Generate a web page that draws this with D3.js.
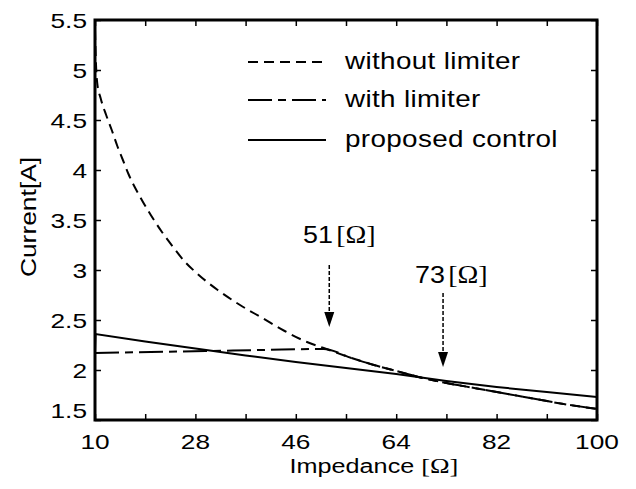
<!DOCTYPE html>
<html>
<head>
<meta charset="utf-8">
<script src="https://cdn.jsdelivr.net/npm/d3@7"></script>
<style>
  body { margin: 0; background: #fff; }
  text { font-family: "Liberation Sans", Arial, Helvetica, sans-serif; fill: #000; }
  .serif { font-family: "Liberation Serif", "Times New Roman", serif; }
</style>
</head>
<body>
<div class="canvas"></div>
<script>
// series data
const withoutZ = [10, 10.15, 10.4, 11, 12, 13, 14, 15, 16, 18, 20, 22, 24, 26, 28, 32, 36, 40, 44, 48, 51, 56, 60, 64, 68, 73, 78, 83, 88, 94, 100];
const withoutI = [5.4, 5.1, 4.87, 4.72, 4.55, 4.4, 4.24, 4.1, 3.96, 3.74, 3.55, 3.38, 3.23, 3.09, 2.98, 2.8, 2.65, 2.52, 2.39, 2.28, 2.22, 2.12, 2.05, 1.99, 1.93, 1.87, 1.82, 1.77, 1.72, 1.66, 1.61];

const withZ = [10, 20, 30, 40, 51, 56, 60, 64, 68, 73, 78, 83, 88, 94, 100];
const withI = [2.17, 2.18, 2.19, 2.2, 2.21, 2.12, 2.05, 1.99, 1.93, 1.87, 1.82, 1.77, 1.72, 1.66, 1.61];

const proposedZ = [10, 10.1, 19, 28, 37, 46, 55, 64, 73, 82, 91, 100];
const proposedI = [2.18, 2.36, 2.285, 2.215, 2.145, 2.08, 2.02, 1.96, 1.89, 1.83, 1.78, 1.73];

const xTicks = [10, 19, 28, 37, 46, 55, 64, 73, 82, 91, 100];
const xTickLabels = [10, 28, 46, 64, 82, 100];
const yTicks = [1.5, 2, 2.5, 3, 3.5, 4, 4.5, 5, 5.5];

const legendNames = ['without limiter', 'with limiter', 'proposed control'];
const markZ = [52, 72.4];
const markLabels = ['51', '73'];
const markArrowTop = [3.05, 2.77];
const markArrowTip = [2.43, 2.03];

const dims = { width: 636, height: 489 };
const plot = { left: 95, right: 597, top: 20, bottom: 420 };

const svg = d3.select('.canvas')
    .append('svg')
    .attr('width', dims.width)
    .attr('height', dims.height);

const x = d3.scaleLinear().domain([10, 100]).range([plot.left, plot.right]);
const y = d3.scaleLinear().domain([1.5, 5.5]).range([plot.bottom, plot.top]);

// stretched text, the scan is a bit wide
const label = (g, tx, ty, str, size, anchor, sx) => {
    return g.append('g')
        .attr('transform', `translate(${tx}, ${ty}) scale(${sx}, 1)`)
        .append('text')
        .attr('text-anchor', anchor)
        .attr('font-size', size)
        .text(str);
};

const dashes = ['10,6', '24,6,8,6', null];
const curves = [d3.curveMonotoneX, d3.curveMonotoneX, d3.curveLinear];

const series = [
    d3.zip(withoutZ, withoutI),
    d3.zip(withZ, withI),
    d3.zip(proposedZ, proposedI)
];

svg.append('clipPath').attr('id', 'clip')
    .append('rect')
    .attr('x', plot.left).attr('y', plot.top)
    .attr('width', plot.right - plot.left).attr('height', plot.bottom - plot.top);

const lines = svg.append('g').attr('clip-path', 'url(#clip)');

lines.selectAll('path')
    .data(series)
    .enter()
    .append('path')
    .attr('d', (d, i) => d3.line()
        .x(p => x(p[0]))
        .y(p => y(p[1]))
        .curve(curves[i])(d))
    .attr('fill', 'none')
    .attr('stroke', '#000')
    .attr('stroke-width', 2)
    .attr('stroke-dasharray', (d, i) => dashes[i]);

// axes: ticks inward on all four sides
const xBottom = d3.axisBottom(x).tickValues(xTicks).tickSize(-6).tickFormat('');
const xTop = d3.axisTop(x).tickValues(xTicks).tickSize(-6).tickFormat('');
const yLeft = d3.axisLeft(y).tickValues(yTicks).tickSize(-6).tickFormat('');
const yRight = d3.axisRight(y).tickValues(yTicks).tickSize(-6).tickFormat('');

[
    [xBottom, `translate(0, ${plot.bottom})`],
    [xTop, `translate(0, ${plot.top})`],
    [yLeft, `translate(${plot.left}, 0)`],
    [yRight, `translate(${plot.right}, 0)`]
].forEach(([ax, tr]) => {
    const g = svg.append('g').attr('transform', tr).call(ax);
    g.select('.domain').remove();
    g.selectAll('line').attr('stroke', '#000').attr('stroke-width', 1.5);
});

svg.append('rect')
    .attr('x', plot.left).attr('y', plot.top)
    .attr('width', plot.right - plot.left).attr('height', plot.bottom - plot.top)
    .attr('fill', 'none')
    .attr('stroke', '#000')
    .attr('stroke-width', 3);

// tick labels
xTickLabels.forEach(v => label(svg, x(v), 449, v, 21, 'middle', 1.25));
yTicks.forEach(v => {
    const by = v === 1.5 ? y(v) - 2 : y(v) + 8;
    label(svg, 87, by, v, 21, 'end', 1.25);
});

// axis titles
const xt = label(svg, 374, 473, 'Impedance ', 21, 'middle', 1.2);
xt.append('tspan').attr('class', 'serif').attr('font-size', 22).text('[Ω]');

svg.append('g')
    .attr('transform', 'translate(36, 217) rotate(-90) scale(1.2, 1)')
    .append('text')
    .attr('text-anchor', 'middle')
    .attr('font-size', 22)
    .text('Current[A]');

// legend
const legendY = [62, 100, 140];
const legend = svg.append('g');
legendNames.forEach((name, i) => {
    legend.append('line')
        .attr('x1', 248).attr('x2', 326)
        .attr('y1', legendY[i]).attr('y2', legendY[i])
        .attr('stroke', '#000')
        .attr('stroke-width', 2)
        .attr('stroke-dasharray', dashes[i]);
    label(legend, 345, legendY[i] + 7, name, 24, 'start', 1.16)
        .attr('letter-spacing', 0.3);
});

// arrows at 51 and 73 ohm
markZ.forEach((z, i) => {
    svg.append('line')
        .attr('x1', x(z)).attr('x2', x(z))
        .attr('y1', y(markArrowTop[i])).attr('y2', y(markArrowTip[i]) - 15)
        .attr('stroke', '#000')
        .attr('stroke-width', 1.5)
        .attr('stroke-dasharray', '4,2');
    svg.append('path')
        .attr('d', `M${x(z) - 5},${y(markArrowTip[i]) - 15} L${x(z) + 5},${y(markArrowTip[i]) - 15} L${x(z)},${y(markArrowTip[i])} Z`)
        .attr('fill', '#000');
});

const markX = [303, 415];
const markY = [243, 283];
markLabels.forEach((t, i) => {
    const m = label(svg, markX[i], markY[i], t, 24, 'start', 1.12);
    m.append('tspan').attr('class', 'serif').attr('font-size', 25).attr('dx', 3).text('[Ω]');
});
</script>
</body>
</html>
